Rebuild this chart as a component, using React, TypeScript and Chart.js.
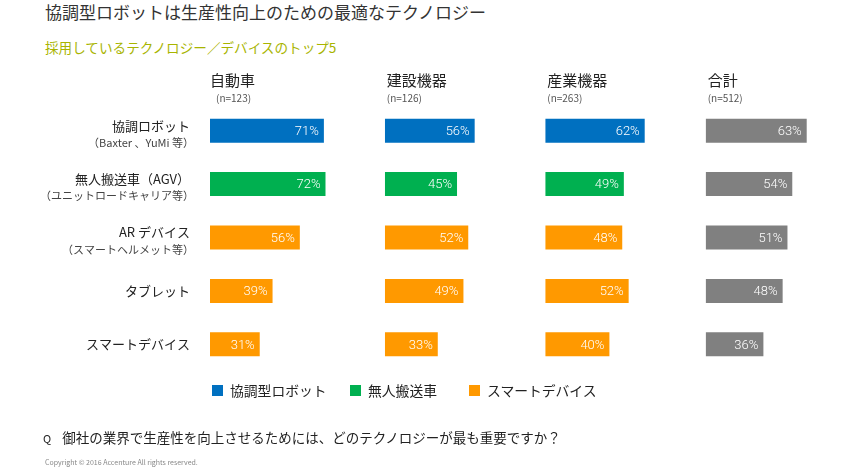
import React, { useEffect, useRef } from "react";
import { Chart, registerables } from "chart.js";

Chart.register(...registerables);

// ---- data ----
const categories: string[][] = [
  ["協調ロボット", "（Baxter 、YuMi 等）"],
  ["無人搬送車（AGV）", "（ユニットロードキャリア等）"],
  ["AR デバイス", "（スマートヘルメット等）"],
  ["タブレット"],
  ["スマートデバイス"],
];
const panelTitles = ["自動車", "建設機器", "産業機器", "合計"];
const panelCounts = ["(n=123)", "(n=126)", "(n=263)", "(n=512)"];
const autoValues = [71, 72, 56, 39, 31];
const constructionValues = [56, 45, 52, 49, 33];
const industrialValues = [62, 49, 48, 52, 40];
const totalValues = [63, 54, 51, 48, 36];
const panelMax = [109, 100, 100, 85];
const legendLabels = ["協調型ロボット", "無人搬送車", "スマートデバイス"];

const BLUE = "#0070C0";
const GREEN = "#00B050";
const ORANGE = "#FF9900";
const GRAY = "#808080";
const rowColors = [BLUE, GREEN, ORANGE, ORANGE, ORANGE];
const legendColors = [BLUE, GREEN, ORANGE];

const FONT = '"Noto Sans CJK JP", "Noto Sans", sans-serif';

const labelPlugin = {
  id: "panelLabels",
  afterDatasetsDraw(chart: any) {
    const ctx = chart.ctx;
    const area = chart.chartArea;
    ctx.save();
    // value labels
    ctx.fillStyle = "#ffffff";
    ctx.textAlign = "right";
    ctx.textBaseline = "middle";
    ctx.font = `300 13px Roboto, ${FONT}`;
    chart.data.datasets.forEach((ds: any, di: number) => {
      const meta = chart.getDatasetMeta(di);
      meta.data.forEach((bar: any, i: number) => {
        ctx.fillText(`${ds.data[i]}%`, bar.x - 5, bar.y + 1);
      });
    });
    // panel headings
    ctx.textAlign = "left";
    panelTitles.forEach((t, i) => {
      const sc = chart.scales["x" + i];
      ctx.fillStyle = "#222222";
      ctx.font = `15px ${FONT}`;
      ctx.fillText(t, sc.left + (i === 0 ? 0 : 2), area.top - 24);
      ctx.fillStyle = "#555555";
      ctx.font = `10px ${FONT}`;
      ctx.fillText(panelCounts[i], sc.left + (i === 0 ? 6 : 2), area.top - 6);
    });
    // category labels
    const ys = chart.scales.y;
    ctx.textAlign = "right";
    categories.forEach((lines, i) => {
      const y = ys.getPixelForValue(i);
      const x = area.left - 20;
      if (lines.length === 1) {
        ctx.fillStyle = "#222222";
        ctx.font = `13px ${FONT}`;
        ctx.fillText(lines[0], x, y);
      } else {
        ctx.fillStyle = "#222222";
        ctx.font = `13px ${FONT}`;
        ctx.fillText(lines[0], x, y - 5);
        ctx.fillStyle = "#444444";
        ctx.font = `11px ${FONT}`;
        ctx.fillText(lines[1], x + 4, y + 12);
      }
    });
    ctx.restore();
  },
};

function ChartCanvas() {
  const ref = useRef<HTMLCanvasElement | null>(null);
  useEffect(() => {
    if (!ref.current) return;
    const seriesList = [autoValues, constructionValues, industrialValues, totalValues];
    const datasets = seriesList.map((vals, i) => ({
      label: panelTitles[i],
      data: vals,
      xAxisID: "x" + i,
      yAxisID: "y",
      grouped: false,
      backgroundColor: i === 3 ? vals.map(() => GRAY) : rowColors,
      borderWidth: 0,
      barPercentage: 0.45,
      categoryPercentage: 1,
    }));
    const scales: any = {
      y: { type: "category", display: false, offset: true },
    };
    panelMax.forEach((m, i) => {
      scales["x" + i] = {
        type: "linear",
        axis: "x",
        position: "bottom",
        stack: "panels",
        stackWeight: m,
        min: 0,
        max: m,
        display: false,
      };
    });
    const chart = new Chart(ref.current, {
      type: "bar",
      data: { labels: categories.map((c) => c[0]), datasets: datasets as any },
      options: {
        indexAxis: "y",
        responsive: false,
        animation: false,
        layout: { padding: { left: 210, right: 8, top: 104, bottom: 99 } },
        scales,
        plugins: { legend: { display: false }, tooltip: { enabled: false } },
      },
      plugins: [labelPlugin],
    });
    return () => chart.destroy();
  }, []);
  return (
    <canvas
      ref={ref}
      width={850}
      height={470}
      style={{ position: "absolute", left: 0, top: 0, width: 850, height: 470 }}
    />
  );
}

export default function App() {
  const legendLeft = [212, 350, 469];
  return (
    <div
      style={{
        position: "fixed",
        left: 0,
        top: 0,
        width: 850,
        height: 470,
        background: "#ffffff",
        fontFamily: FONT,
        overflow: "hidden",
      }}
    >
      <div style={{ position: "absolute", left: 45, top: 2, fontSize: 17, lineHeight: "20px", color: "#333333" }}>
        協調型ロボットは生産性向上のための最適なテクノロジー
      </div>
      <div style={{ position: "absolute", left: 45, top: 37, fontSize: 13.6, lineHeight: "20px", color: "#A8B400" }}>
        採用しているテクノロジー／デバイスのトップ5
      </div>
      <ChartCanvas />
      {legendLabels.map((l, i) => (
        <div
          key={l}
          style={{
            position: "absolute",
            left: legendLeft[i],
            top: 381,
            display: "flex",
            alignItems: "center",
            fontSize: 13.8,
            lineHeight: "18px",
            color: "#222222",
            whiteSpace: "nowrap",
          }}
        >
          <span style={{ display: "inline-block", width: 11, height: 11, background: legendColors[i], marginRight: 7 }} />
          {l}
        </div>
      ))}
      <div style={{ position: "absolute", left: 43, top: 427, fontSize: 13.5, lineHeight: "20px", color: "#222222", whiteSpace: "nowrap" }}>
        <span style={{ fontSize: 11, marginRight: 11 }}>Q</span>
        御社の業界で生産性を向上させるためには、どのテクノロジーが最も重要ですか？
      </div>
      <div style={{ position: "absolute", left: 45, top: 457, fontSize: 7, lineHeight: "10px", color: "#888888", whiteSpace: "nowrap" }}>
        Copyright © 2016 Accenture All rights reserved.
      </div>
    </div>
  );
}
